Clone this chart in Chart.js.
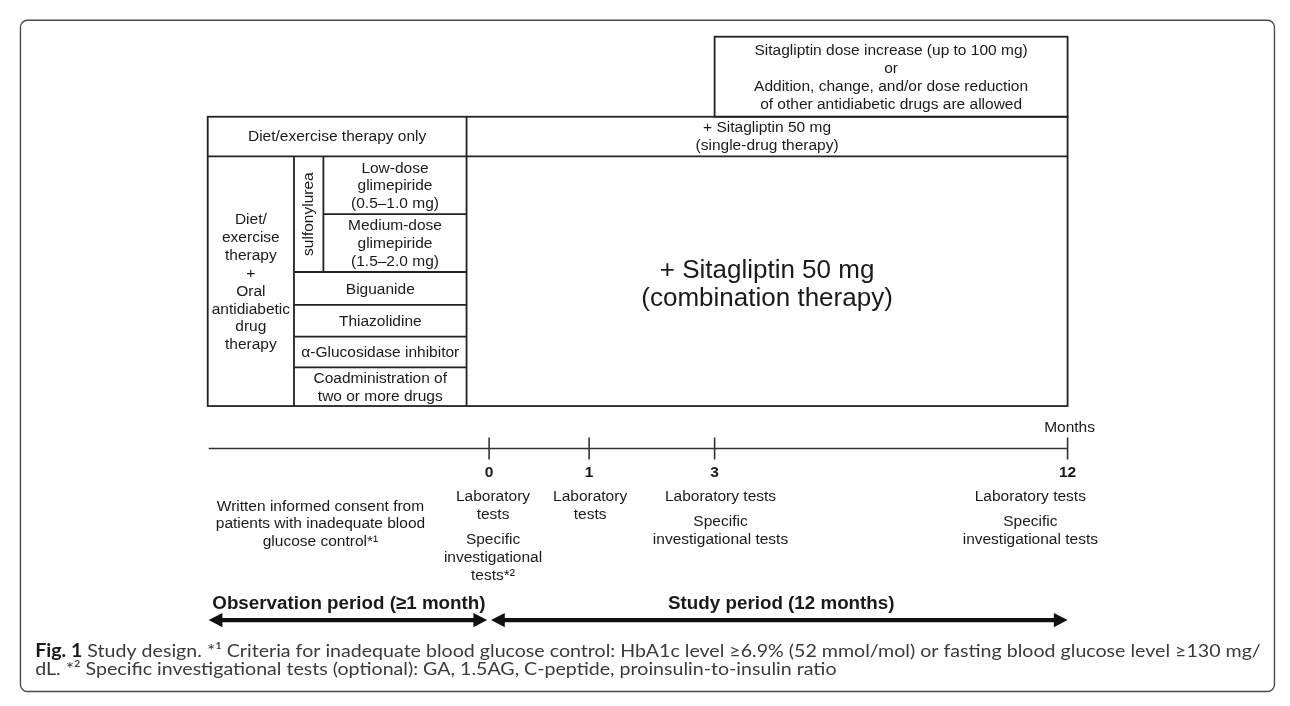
<!DOCTYPE html>
<html><head><meta charset="utf-8">
<script src="https://cdn.jsdelivr.net/npm/chart.js@4/dist/chart.umd.min.js"></script>
<style>html,body{margin:0;padding:0;background:#fff;overflow:hidden}#wrap{width:1290px;height:706px}</style>
</head><body><div id="wrap"><canvas id="c" width="1290" height="706"></canvas></div>
<script>
// ---------- content ----------
const months = [0, 1, 3, 12];
const monthLabels = ['0', '1', '3', '12'];
const axisTitle = 'Months';
const monthNotes = [
  [['Laboratory', 'tests'], ['Specific', 'investigational', 'tests*²']],
  [['Laboratory', 'tests']],
  [['Laboratory tests'], ['Specific', 'investigational tests']],
  [['Laboratory tests'], ['Specific', 'investigational tests']]
];
const consentNote = ['Written informed consent from', 'patients with inadequate blood', 'glucose control*¹'];
const periodLabels = ['Observation period (≥1 month)', 'Study period (12 months)'];
const adjustmentNote = ['Sitagliptin dose increase (up to 100 mg)', 'or', 'Addition, change, and/or dose reduction', 'of other antidiabetic drugs are allowed'];
const dietOnlyLabel = 'Diet/exercise therapy only';
const singleDrugLabel = ['+ Sitagliptin 50 mg', '(single-drug therapy)'];
const combinationLabel = ['+ Sitagliptin 50 mg', '(combination therapy)'];
const oralTherapyLabel = ['Diet/', 'exercise', 'therapy', '+', 'Oral', 'antidiabetic', 'drug', 'therapy'];
const sulfonylureaLabel = 'sulfonylurea';
const sulfonylureaDoses = [['Low-dose', 'glimepiride', '(0.5–1.0 mg)'], ['Medium-dose', 'glimepiride', '(1.5–2.0 mg)']];
const otherDrugs = [['Biguanide'], ['Thiazolidine'], ['α-Glucosidase inhibitor'], ['Coadministration of', 'two or more drugs']];
const captionLine1 = [['Fig. 1', true], [' Study design. *¹ Criteria for inadequate blood glucose control: HbA1c level ≥6.9% (52 mmol/mol) or fasting blood glucose level ≥130 mg/', false]];
const captionLine2 = [['dL. *² Specific investigational tests (optional): GA, 1.5AG, C-peptide, proinsulin-to-insulin ratio', false]];

// ---------- layout (diagram units = canvas px) ----------
const L = {
  frame: { x0: 8, y0: 8, x1: 1287, y1: 704, r: 7 },
  tbl: { x0: 199, c1: 287, c2: 317, mid: 463, x1: 1076, adjX0: 716, yTop: 25, yR1: 108, yR2: 149, yB: 408 },
  sulfRows: [149, 209, 269],
  drugRows: [269, 303, 336, 368, 408],
  timeline: { x0: 200, y: 452, tickHalf: 11 },
  monthX: { 0: 486, 1: 588, 3: 716, 12: 1076 },
  noteX: { 0: 490, 1: 589, 3: 722, 12: 1038 },
  lineH: 18.5,
  fs: 15.5
};

const FONT = '"Liberation Sans", Arial, Helvetica, sans-serif';
const font = (s, b) => (b ? 'bold ' : '') + s + 'px ' + FONT;

function linesAt(ctx, X, Y, lines, cx, cy, lh) {
  const n = lines.length;
  lines.forEach((t, i) => ctx.fillText(t, X(cx), Y(cy + (i - (n - 1) / 2) * lh)));
}

const diagram = {
  id: 'diagram',
  beforeDatasetsDraw(chart) {
    const ctx = chart.ctx, xs = chart.scales.x, ys = chart.scales.y;
    const X = v => xs.getPixelForValue(v), Y = v => ys.getPixelForValue(v);
    const t = L.tbl;
    ctx.save();
    const f = L.frame;
    ctx.strokeStyle = '#4a4a4a'; ctx.lineWidth = 1.4;
    ctx.beginPath();
    ctx.roundRect(X(f.x0), Y(f.y0), X(f.x1) - X(f.x0), Y(f.y1) - Y(f.y0), f.r);
    ctx.stroke();
    ctx.strokeStyle = '#222'; ctx.lineWidth = 1.8;
    const h = (a, b, y) => { ctx.beginPath(); ctx.moveTo(X(a), Y(y)); ctx.lineTo(X(b), Y(y)); ctx.stroke(); };
    const v = (x, a, b) => { ctx.beginPath(); ctx.moveTo(X(x), Y(a)); ctx.lineTo(X(x), Y(b)); ctx.stroke(); };
    ctx.strokeRect(X(t.adjX0), Y(t.yTop), X(t.x1) - X(t.adjX0), Y(t.yR1) - Y(t.yTop));
    ctx.strokeRect(X(t.x0), Y(t.yR1), X(t.x1) - X(t.x0), Y(t.yB) - Y(t.yR1));
    h(t.x0, t.x1, t.yR2);
    v(t.mid, t.yR1, t.yB);
    v(t.c1, t.yR2, t.yB);
    v(t.c2, L.sulfRows[0], L.sulfRows[2]);
    h(t.c2, t.mid, L.sulfRows[1]);
    L.drugRows.slice(0, -1).forEach(y => h(t.c1, t.mid, y));
    ctx.restore();
  },
  afterDatasetsDraw(chart) {
    const ctx = chart.ctx, xs = chart.scales.x, ys = chart.scales.y;
    const X = v => xs.getPixelForValue(v), Y = v => ys.getPixelForValue(v);
    const t = L.tbl, lh = L.lineH;
    ctx.save();
    ctx.fillStyle = '#1a1a1a';
    ctx.textAlign = 'center'; ctx.textBaseline = 'middle';
    ctx.font = font(L.fs);
    linesAt(ctx, X, Y, adjustmentNote, (t.adjX0 + t.x1) / 2, (t.yTop + t.yR1) / 2 + 1, lh);
    linesAt(ctx, X, Y, [dietOnlyLabel], (t.x0 + t.mid) / 2, (t.yR1 + t.yR2) / 2, lh);
    linesAt(ctx, X, Y, singleDrugLabel, (t.mid + t.x1) / 2, (t.yR1 + t.yR2) / 2, lh);
    linesAt(ctx, X, Y, oralTherapyLabel, (t.x0 + t.c1) / 2, (t.yR2 + t.yB) / 2 + 1.5, lh);
    sulfonylureaDoses.forEach((d, i) =>
      linesAt(ctx, X, Y, d, (t.c2 + t.mid) / 2, (L.sulfRows[i] + L.sulfRows[i + 1]) / 2 + 1, lh));
    otherDrugs.forEach((d, i) =>
      linesAt(ctx, X, Y, d, (t.c1 + t.mid) / 2, (L.drugRows[i] + L.drugRows[i + 1]) / 2 + 1, lh));
    ctx.save();
    ctx.translate(X((t.c1 + t.c2) / 2), Y((L.sulfRows[0] + L.sulfRows[2]) / 2));
    ctx.rotate(-Math.PI / 2);
    ctx.fillText(sulfonylureaLabel, 0, 0);
    ctx.restore();
    ctx.font = font(26);
    linesAt(ctx, X, Y, combinationLabel, (t.mid + t.x1) / 2, 282, 29);
    ctx.font = font(L.fs);
    ctx.fillText(axisTitle, X(L.monthX[12] + 2), Y(430));
    ctx.font = font(L.fs, true);
    months.forEach((m, i) => ctx.fillText(monthLabels[i], X(L.monthX[m]), Y(477)));
    ctx.font = font(L.fs);
    months.forEach((m, i) => {
      let y = 502;
      monthNotes[i].forEach((g, gi) => {
        if (gi > 0) y += 7.5;
        g.forEach(line => { ctx.fillText(line, X(L.noteX[m]), Y(y)); y += lh; });
      });
    });
    linesAt(ctx, X, Y, consentNote, 314, 530.5, lh);
    ctx.font = font(18.8, true);
    const mid0 = (L.timeline.x0 + L.monthX[0]) / 2, mid1 = (L.monthX[0] + L.monthX[12]) / 2;
    ctx.fillText(periodLabels[0], X(mid0), Y(613));
    ctx.fillText(periodLabels[1], X(mid1 + 3), Y(613));
    const arrow = (a, b, y) => {
      const hl = 14, hh = 7.5, sw = 2.2;
      ctx.beginPath();
      ctx.moveTo(X(a), Y(y));
      ctx.lineTo(X(a + hl), Y(y - hh));
      ctx.lineTo(X(a + hl), Y(y - sw));
      ctx.lineTo(X(b - hl), Y(y - sw));
      ctx.lineTo(X(b - hl), Y(y - hh));
      ctx.lineTo(X(b), Y(y));
      ctx.lineTo(X(b - hl), Y(y + hh));
      ctx.lineTo(X(b - hl), Y(y + sw));
      ctx.lineTo(X(a + hl), Y(y + sw));
      ctx.lineTo(X(a + hl), Y(y + hh));
      ctx.closePath();
      ctx.fill();
    };
    ctx.fillStyle = '#111';
    arrow(L.timeline.x0, L.monthX[0] - 2, 630);
    arrow(L.monthX[0] + 2, L.monthX[12], 630);
    const capFont = b => (b ? 'bold ' : '') + '18px Lato, "Open Sans", sans-serif';
    ctx.textAlign = 'left'; ctx.textBaseline = 'alphabetic';
    let w = 0;
    captionLine1.forEach(([s, b]) => { ctx.font = capFont(b); w += ctx.measureText(s).width; });
    const sx = (X(1273) - X(23)) / w;
    [[captionLine1, 668], [captionLine2, 687]].forEach(([runs, by]) => {
      ctx.save();
      ctx.translate(X(23), Y(by));
      ctx.scale(sx, 1);
      let x = 0;
      runs.forEach(([s, b]) => {
        ctx.font = capFont(b);
        ctx.fillStyle = b ? '#1a1a1a' : '#3a3a3a';
        ctx.fillText(s, x, 0);
        x += ctx.measureText(s).width;
      });
      ctx.restore();
    });
    ctx.restore();
  }
};

new Chart(document.getElementById('c'), {
  type: 'scatter',
  data: {
    datasets: [
      {
        label: 'timeline', type: 'line', showLine: true,
        data: [{ x: L.timeline.x0, y: L.timeline.y }, { x: L.monthX[12], y: L.timeline.y }],
        borderColor: '#333', borderWidth: 1.6, pointRadius: 0, fill: false
      },
      {
        label: 'ticks',
        data: months.map(m => ({ x: L.monthX[m], y: L.timeline.y })),
        pointStyle: 'line', pointRotation: 90, pointRadius: L.timeline.tickHalf,
        pointBorderColor: '#333', pointBorderWidth: 1.6, borderColor: '#333', backgroundColor: '#333'
      }
    ]
  },
  options: {
    responsive: false, animation: false, events: [],
    layout: { padding: 0 },
    plugins: { legend: { display: false }, tooltip: { enabled: false } },
    scales: {
      x: { type: 'linear', min: 0, max: 1290, display: false },
      y: { type: 'linear', min: 0, max: 706, reverse: true, display: false }
    }
  },
  plugins: [diagram]
});
</script></body></html>
